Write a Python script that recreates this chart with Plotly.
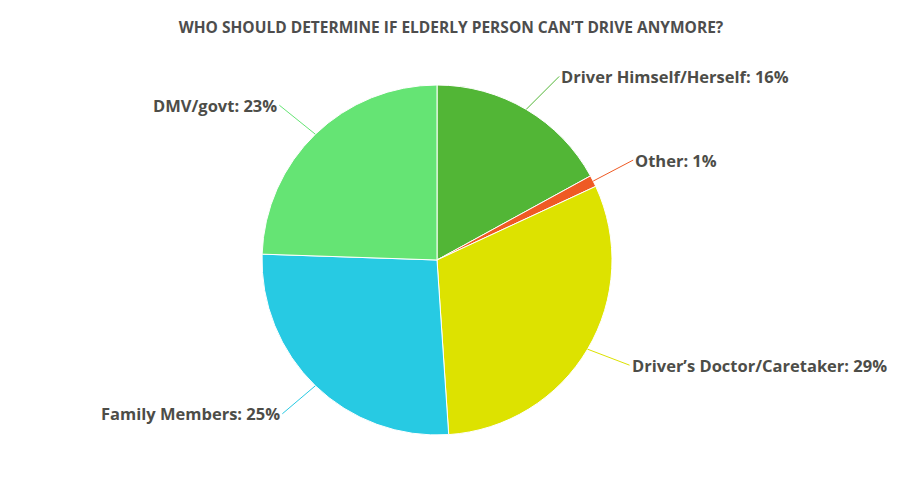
import math
import plotly.graph_objects as go

labels = ['Driver Himself/Herself', 'Other', 'Driver\u2019s Doctor/Caretaker',
          'Family Members', 'DMV/govt']
values = [16, 1, 29, 25, 23]
colors = ['#52b636', '#ef5a24', '#dde200', '#27cae3', '#65e474']

W, H = 903, 494
PAD = 8  # page body margin
# pie placement in pixels (centre and radius), relative to the figure
cx, cy, r = 437 - PAD, 260 - PAD, 175

fig = go.Figure(go.Pie(
    labels=labels,
    values=values,
    sort=False,
    direction='clockwise',
    rotation=0,
    textinfo='none',
    hoverinfo='label+percent',
    marker=dict(colors=colors, line=dict(color='white', width=1)),
    domain=dict(x=[(cx - r) / W, (cx + r) / W], y=[1 - (cy + r) / H, 1 - (cy - r) / H]),
    showlegend=False,
))

# label offsets (pixels) from the slice edge to the label
offsets = [(33, -33, 'left'), (40, -21, 'left'), (42, 16, 'left'),
           (-33, 28, 'right'), (-36, -29, 'right')]

total = sum(values)
start = 0
for lab, val, col, (ax, ay, anchor) in zip(labels, values, colors, offsets):
    mid = (start + val / 2) / total * 2 * math.pi
    start += val
    px_ = cx + r * math.sin(mid)
    py_ = cy - r * math.cos(mid)
    fig.add_annotation(
        x=px_ / W, y=1 - py_ / H, xref='paper', yref='paper',
        text=f'{lab}: {val}%',
        showarrow=True, arrowhead=0, arrowwidth=1, arrowcolor=col,
        ax=ax, ay=ay, xanchor=anchor, standoff=0,
        font=dict(family='Open Sans', size=16.5, color='#4d4d48', weight='bold'),
    )

fig.update_layout(
    width=W, height=H,
    margin=dict(l=0, r=0, t=0, b=0),
    paper_bgcolor='white',
    plot_bgcolor='white',
    title=dict(
        text='WHO SHOULD DETERMINE IF ELDERLY PERSON CAN\u2019T DRIVE ANYMORE?',
        x=(451 - PAD) / W, xanchor='center', y=1 - (28 - PAD) / H, yanchor='middle',
        font=dict(family='Open Sans', size=15.5, color='#4d4d4d', weight='bold'),
    ),
)

fig.write_html('out.html')
